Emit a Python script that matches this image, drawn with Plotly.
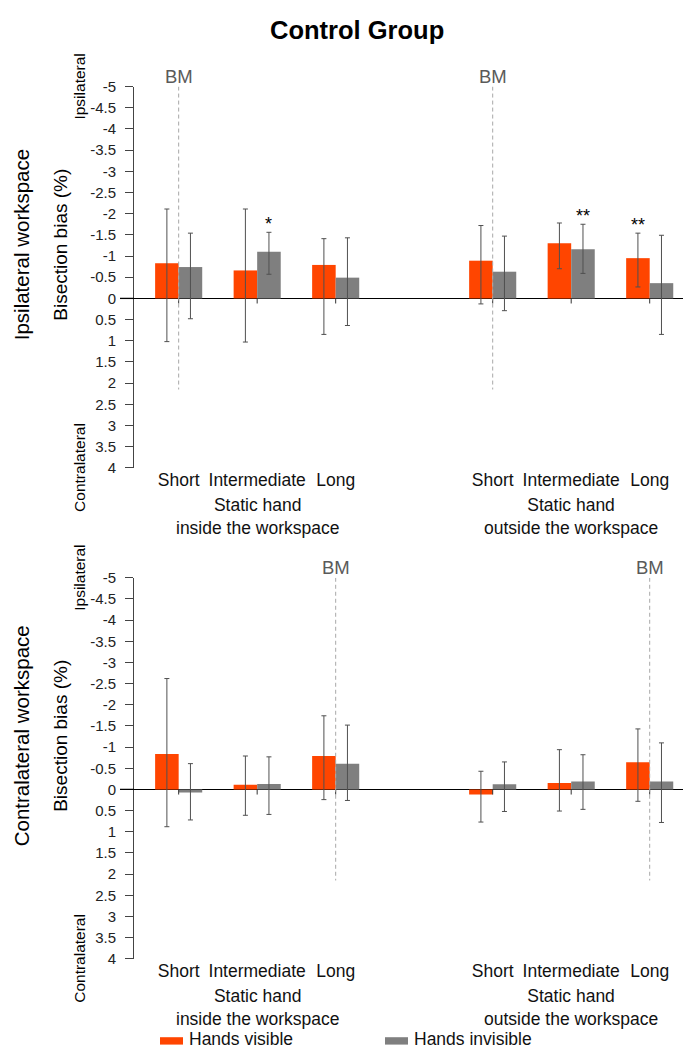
import plotly.graph_objects as go

# ---------------- data ----------------
categories = ["Short", "Intermediate", "Long"]
groups = ["Static hand<br>inside the workspace", "Static hand<br>outside the workspace"]
series_names = ["Hands visible", "Hands invisible"]

y_ticks = [-5, -4.5, -4, -3.5, -3, -2.5, -2, -1.5, -1, -0.5, 0, 0.5, 1, 1.5, 2, 2.5, 3, 3.5, 4]
y_tick_labels = ["-5", "-4.5", "-4", "-3.5", "-3", "-2.5", "-2", "-1.5", "-1", "-0.5", "0",
                 "0.5", "1", "1.5", "2", "2.5", "3", "3.5", "4"]

# Ipsilateral workspace (top panel); order: inside S/I/L, outside S/I/L
ipsi_visible = [-0.83, -0.66, -0.79, -0.89, -1.30, -0.95]
ipsi_visible_hi = [-2.11, -2.11, -1.41, -1.72, -1.78, -1.54]
ipsi_visible_lo = [1.02, 1.03, 0.85, 0.13, -0.70, -0.27]
ipsi_invisible = [-0.74, -1.10, -0.49, -0.63, -1.16, -0.36]
ipsi_invisible_hi = [-1.54, -1.56, -1.43, -1.47, -1.75, -1.49]
ipsi_invisible_lo = [0.48, -0.57, 0.64, 0.29, -0.59, 0.85]
ipsi_sig_visible = ["", "", "", "", "", "**"]
ipsi_sig_invisible = ["", "*", "", "", "**", ""]

# Contralateral workspace (bottom panel)
contra_visible = [-0.84, -0.11, -0.79, 0.12, -0.15, -0.64]
contra_visible_hi = [-2.62, -0.79, -1.74, -0.43, -0.94, -1.43]
contra_visible_lo = [0.88, 0.61, 0.24, 0.77, 0.51, 0.28]
contra_invisible = [0.07, -0.13, -0.61, -0.12, -0.19, -0.19]
contra_invisible_hi = [-0.61, -0.77, -1.52, -0.65, -0.82, -1.10]
contra_invisible_lo = [0.72, 0.59, 0.26, 0.52, 0.47, 0.78]
contra_sig_visible = ["", "", "", "", "", ""]
contra_sig_invisible = ["", "", "", "", "", ""]

bm_category = ["Short", "Long"]  # BM reference line category per panel
bm_line_end = 2.15

panel_titles = ["Ipsilateral workspace", "Contralateral workspace"]

# ---------------- styling ----------------
W, H = 691, 1050
FONT = "Liberation Sans, Arial, sans-serif"
ORANGE = "#FF4500"
GRAY = "#7F7F7F"
ERR = "#505050"

def px_x(p):
    return p / W

def px_y(p):
    return 1 - p / H

x_pos = [g * (len(categories) + 1) + c for g in range(len(groups)) for c in range(len(categories))]
x_labels = [categories[c] for g in range(len(groups)) for c in range(len(categories))]
half_bar = 0.15

panels = [
    dict(vis=ipsi_visible, vis_hi=ipsi_visible_hi, vis_lo=ipsi_visible_lo,
         inv=ipsi_invisible, inv_hi=ipsi_invisible_hi, inv_lo=ipsi_invisible_lo,
         sig_v=ipsi_sig_visible, sig_i=ipsi_sig_invisible, top=70.7, bottom=458.3),
    dict(vis=contra_visible, vis_hi=contra_visible_hi, vis_lo=contra_visible_lo,
         inv=contra_invisible, inv_hi=contra_invisible_hi, inv_lo=contra_invisible_lo,
         sig_v=contra_sig_visible, sig_i=contra_sig_invisible, top=570.0, bottom=957.3),
]

fig = go.Figure()
annotations = []
shapes = []
layout_axes = {}

for i, p in enumerate(panels):
    sfx = "" if i == 0 else str(i + 1)
    xa, ya = "x" + sfx, "y" + sfx
    for name, vals, hi, lo, color in [
        (series_names[0], p["vis"], p["vis_hi"], p["vis_lo"], ORANGE),
        (series_names[1], p["inv"], p["inv_hi"], p["inv_lo"], GRAY),
    ]:
        fig.add_trace(go.Bar(
            x=x_pos, y=vals, name=name, marker=dict(color=color, line=dict(width=0)),
            xaxis=xa, yaxis=ya, showlegend=False,
            error_y=dict(type="data", symmetric=False,
                         array=[l - v for l, v in zip(lo, vals)],
                         arrayminus=[v - h for h, v in zip(hi, vals)],
                         color=ERR, thickness=1, width=2.5),
        ))
    dom_y = [px_y(p["bottom"]), px_y(p["top"])]
    layout_axes["xaxis" + sfx] = dict(
        domain=[px_x(126), 1], range=[-0.569, 6.628], anchor=ya,
        tickvals=x_pos, ticktext=x_labels, ticks="", showline=False, showgrid=False,
        zeroline=False, tickfont=dict(size=17.5, color="#111", family=FONT),
    )
    layout_axes["yaxis" + sfx] = dict(
        domain=dom_y, range=[4, -5], anchor=xa,
        tickvals=y_ticks, ticktext=y_tick_labels, ticks="outside", ticklen=8,
        tickcolor="#444", showline=True, linecolor="#444", linewidth=1,
        showgrid=False, zeroline=True, zerolinecolor="#000", zerolinewidth=1.3,
        ticklabelstandoff=6,
        tickfont=dict(size=15, color="#222", family=FONT),
    )
    # longer tick at zero
    shapes.append(dict(type="line", xref="paper", yref=ya, x0=px_x(112), x1=px_x(126),
                       y0=0, y1=0, line=dict(color="#000", width=1.3)))
    # small tick marks on the zero line
    for xp in x_pos:
        shapes.append(dict(type="line", xref=xa, yref=ya, x0=xp, x1=xp, y0=0, y1=0.12,
                           line=dict(color="#333", width=1)))
    # BM lines
    for g in range(len(groups)):
        xb = x_pos[g * len(categories) + categories.index(bm_category[i])]
        shapes.append(dict(type="line", xref=xa, yref=ya, x0=xb, x1=xb, y0=-5, y1=bm_line_end,
                           line=dict(color="#a8a8a8", width=1, dash="4px,3px")))
        annotations.append(dict(text="BM", xref=xa, yref=ya, x=xb, y=-5, yanchor="bottom",
                                xanchor="center", showarrow=False, yshift=-2,
                                font=dict(size=18.5, color="#5a5a5a", family=FONT)))
        # group labels
        annotations.append(dict(text=groups[g], xref=xa, yref=ya + " domain",
                                x=sum(x_pos[g * 3:(g + 1) * 3]) / 3, y=0, yanchor="top",
                                xanchor="center", showarrow=False, yshift=-25,
                                font=dict(size=17.5, color="#111", family=FONT)))
    # significance stars
    for xp, hi, s in zip(x_pos, p["vis_hi"], p["sig_v"]):
        if s:
            annotations.append(dict(text=s, xref=xa, yref=ya, x=xp - half_bar, y=hi,
                                    yanchor="bottom", showarrow=False, yshift=-4,
                                    font=dict(size=18, color="#000", family=FONT)))
    for xp, hi, s in zip(x_pos, p["inv_hi"], p["sig_i"]):
        if s:
            annotations.append(dict(text=s, xref=xa, yref=ya, x=xp + half_bar, y=hi,
                                    yanchor="bottom", showarrow=False, yshift=-4,
                                    font=dict(size=18, color="#000", family=FONT)))
    # side labels
    mid = (p["top"] + p["bottom"]) / 2 - 33
    annotations.append(dict(text=panel_titles[i], xref="paper", yref="paper", x=px_x(13.5),
                            y=px_y(mid), textangle=-90, showarrow=False, borderpad=0,
                            xanchor="center", yanchor="middle",
                            font=dict(size=20.5, color="#000", family=FONT)))
    annotations.append(dict(text="Bisection bias (%)", xref="paper", yref="paper", x=px_x(53),
                            y=px_y(mid), textangle=-90, showarrow=False,
                            xanchor="center", yanchor="middle",
                            font=dict(size=19, color="#000", family=FONT)))
    annotations.append(dict(text="Ipsilateral", xref="paper", yref=ya, x=px_x(72), y=-5,
                            textangle=-90, showarrow=False, xanchor="center", yanchor="middle",
                            font=dict(size=15.5, color="#000", family=FONT)))
    annotations.append(dict(text="Contralateral", xref="paper", yref=ya, x=px_x(72), y=4,
                            textangle=-90, showarrow=False, xanchor="center", yanchor="middle",
                            font=dict(size=15.5, color="#000", family=FONT)))

# title
annotations.append(dict(text="<b>Control Group</b>", xref="paper", yref="paper",
                        x=px_x(349), y=px_y(13), showarrow=False, xanchor="center",
                        yanchor="middle", font=dict(size=25.5, color="#000", family=FONT)))

# legend (custom)
for (x0, x1, txt_x, color, name) in [(152, 175, 180, ORANGE, series_names[0]),
                                     (377, 400, 405, GRAY, series_names[1])]:
    shapes.append(dict(type="rect", xref="paper", yref="paper", x0=px_x(x0), x1=px_x(x1),
                       y0=px_y(1044.5), y1=px_y(1037), line=dict(width=0), fillcolor=color))
    annotations.append(dict(text=name, xref="paper", yref="paper", x=px_x(txt_x),
                            y=0, xanchor="left", yanchor="bottom", showarrow=False,
                            borderpad=0,
                            font=dict(size=17.5, color="#111", family=FONT)))

fig.update_layout(
    width=W, height=H, margin=dict(l=0, r=0, t=0, b=0),
    paper_bgcolor="white", plot_bgcolor="white",
    barmode="group", bargap=0.4, bargroupgap=0,
    font=dict(family=FONT),
    annotations=annotations, shapes=shapes,
    **layout_axes,
)

fig.write_html("out.html")
